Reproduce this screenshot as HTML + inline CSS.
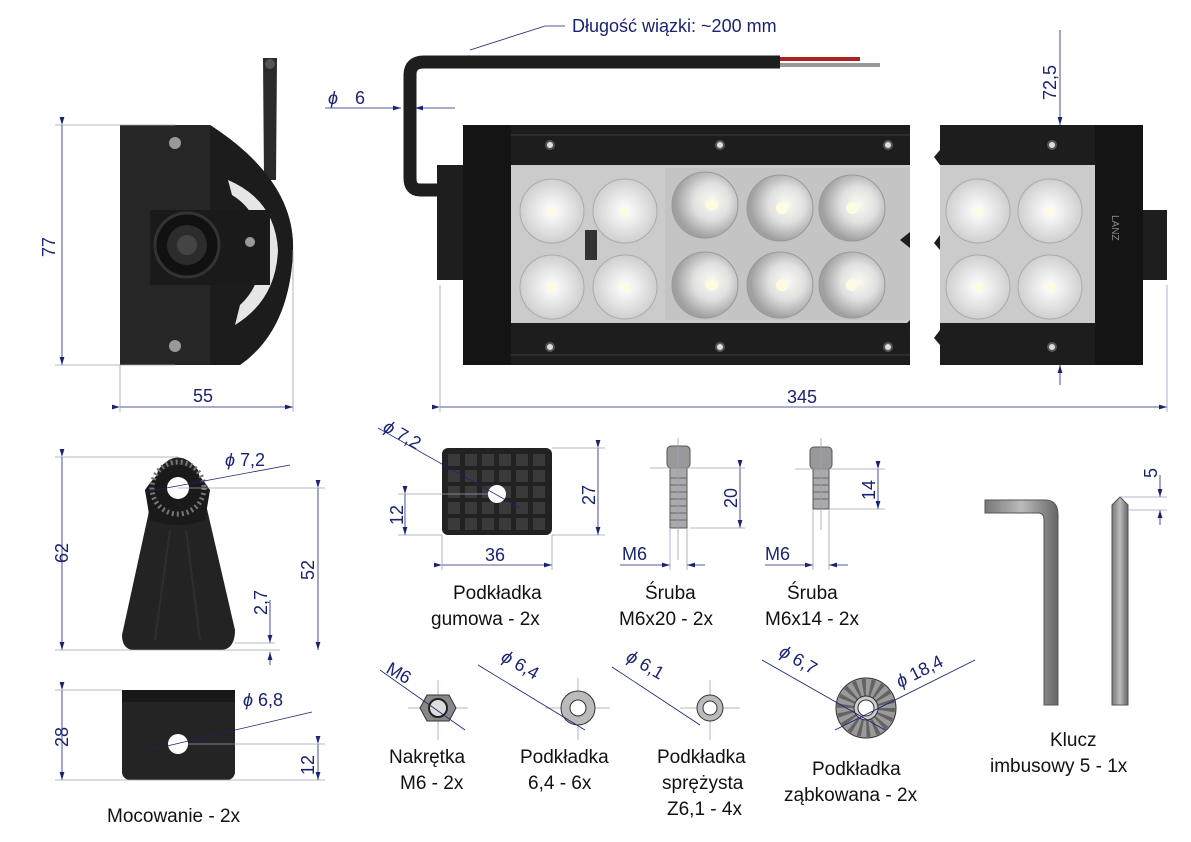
<!DOCTYPE html>
<html><head><meta charset="utf-8"><style>
html,body{margin:0;padding:0;background:#fff;width:1191px;height:842px;overflow:hidden}
svg{display:block}
.t{font-family:"Liberation Sans",sans-serif;font-size:19px;fill:#111}
.d{font-family:"Liberation Sans",sans-serif;font-size:18px;fill:#1a2370}
.l{stroke:#1a2370;stroke-width:0.8;fill:none}
.g{stroke:#9aa0b8;stroke-width:0.8;fill:none}
</style></head><body>
<svg width="1191" height="842" viewBox="0 0 1191 842" xmlns="http://www.w3.org/2000/svg">
<defs>
<radialGradient id="led" cx="50%" cy="50%" r="50%"><stop offset="0" stop-color="#fff"/><stop offset="0.3" stop-color="#f2f2f2"/><stop offset="1" stop-color="#cfcfcf"/></radialGradient>
<radialGradient id="ref" cx="60%" cy="45%" r="55%"><stop offset="0" stop-color="#fbfbf4"/><stop offset="0.5" stop-color="#e0e0e0"/><stop offset="1" stop-color="#a0a0a0"/></radialGradient>
<linearGradient id="key" x1="0" x2="1"><stop offset="0" stop-color="#777"/><stop offset="0.5" stop-color="#bbb"/><stop offset="1" stop-color="#666"/></linearGradient>
<marker id="a" markerWidth="10" markerHeight="6" refX="10" refY="3" orient="auto"><path d="M0,0L10,3L0,6z" fill="#1a2370"/></marker>
</defs>

<!-- ===== side view ===== -->
<path d="M263,58 L277,58 L276,180 L264,180 Z" fill="#2a2a2a"/>
<circle cx="270" cy="64" r="5" fill="#555"/>
<path d="M120,125 L210,125 Q295,180 293,250 Q290,330 240,365 L120,365 Z" fill="#262626"/>
<path d="M210,125 Q295,180 293,250 Q290,330 240,365 L210,365 Z" fill="#1c1c1c"/>
<path d="M228,180 Q275,200 278,250 Q276,300 235,325 L240,305 Q262,285 262,250 Q260,212 232,195 Z" fill="#e6e6e6"/>
<rect x="150" y="210" width="120" height="75" fill="#1a1a1a"/>
<circle cx="187" cy="245" r="32" fill="#111" stroke="#333" stroke-width="3"/>
<circle cx="187" cy="245" r="20" fill="#2c2c2c"/>
<circle cx="187" cy="245" r="10" fill="#444"/>
<circle cx="175" cy="143" r="6" fill="#999"/><circle cx="175" cy="346" r="6" fill="#999"/><circle cx="250" cy="242" r="5" fill="#999"/>
<line class="l" x1="62" y1="125" x2="62" y2="365" marker-start="url(#a)" marker-end="url(#a)"/>
<line class="g" x1="55" y1="125" x2="175" y2="125"/><line class="g" x1="55" y1="365" x2="175" y2="365"/>
<text class="d" transform="translate(55,257) rotate(-90)">77</text>
<line class="l" x1="120" y1="407" x2="293" y2="407" marker-start="url(#a)" marker-end="url(#a)"/>
<line class="g" x1="120" y1="365" x2="120" y2="412"/><line class="g" x1="293" y1="250" x2="293" y2="412"/>
<text class="d" x="193" y="402">55</text>

<!-- ===== main bar ===== -->
<path d="M440,190 L420,190 Q410,190 410,178 L410,75 Q410,62 424,62 L780,62" fill="none" stroke="#1e1e1e" stroke-width="13"/>
<line x1="780" y1="59" x2="860" y2="59" stroke="#b02020" stroke-width="4"/>
<line x1="780" y1="65" x2="880" y2="65" stroke="#999" stroke-width="4"/>
<rect x="437" y="165" width="28" height="115" fill="#1e1e1e"/>
<rect x="1140" y="210" width="27" height="70" fill="#1e1e1e"/>
<rect x="463" y="125" width="447" height="240" fill="#1d1d1d"/>
<rect x="940" y="125" width="203" height="240" fill="#1d1d1d"/>
<rect x="511" y="165" width="399" height="158" fill="#cbcbcb"/>
<rect x="940" y="165" width="157" height="158" fill="#cbcbcb"/>
<rect x="665" y="168" width="245" height="152" fill="#c4c4c4"/>
<rect x="910" y="120" width="30" height="250" fill="#fff"/>
<path d="M910,140 L900,152 L910,160 Z M940,150 L934,157 L940,165 Z M910,232 L900,240 L910,248 Z M940,235 L934,243 L940,250 Z M910,320 L900,330 L910,340 Z M940,330 L934,338 L940,345 Z" fill="#1d1d1d"/>
<rect x="463" y="125" width="48" height="240" fill="#141414"/>
<rect x="1095" y="125" width="48" height="240" fill="#141414"/>
<line x1="511" y1="135" x2="910" y2="135" stroke="#2e2e2e" stroke-width="2"/>
<line x1="511" y1="355" x2="910" y2="355" stroke="#2e2e2e" stroke-width="2"/>
<g fill="#ddd" stroke="#555" stroke-width="2">
<circle cx="550" cy="145" r="4"/><circle cx="720" cy="145" r="4"/><circle cx="888" cy="145" r="4"/><circle cx="1052" cy="145" r="4"/>
<circle cx="550" cy="347" r="4"/><circle cx="720" cy="347" r="4"/><circle cx="888" cy="347" r="4"/><circle cx="1052" cy="347" r="4"/>
</g>
<rect x="585" y="230" width="12" height="30" fill="#333"/>
<g fill="url(#led)" stroke="#aaa">
<circle cx="552" cy="211" r="32"/><circle cx="625" cy="211" r="32"/><circle cx="552" cy="287" r="32"/><circle cx="625" cy="287" r="32"/>
<circle cx="978" cy="211" r="32"/><circle cx="1050" cy="211" r="32"/><circle cx="978" cy="287" r="32"/><circle cx="1050" cy="287" r="32"/>
</g>
<g fill="url(#ref)" stroke="#999">
<circle cx="705" cy="205" r="33"/><circle cx="780" cy="208" r="33"/><circle cx="852" cy="208" r="33"/>
<circle cx="705" cy="285" r="33"/><circle cx="780" cy="285" r="33"/><circle cx="852" cy="285" r="33"/>
</g>
<g fill="#fffbe0"><circle cx="552" cy="211" r="5"/><circle cx="625" cy="211" r="5"/><circle cx="552" cy="287" r="5"/><circle cx="625" cy="287" r="5"/><circle cx="978" cy="211" r="5"/><circle cx="1050" cy="211" r="5"/><circle cx="978" cy="287" r="5"/><circle cx="1050" cy="287" r="5"/><circle cx="712" cy="205" r="6"/><circle cx="782" cy="208" r="6"/><circle cx="852" cy="208" r="6"/><circle cx="712" cy="285" r="6"/><circle cx="782" cy="285" r="6"/><circle cx="852" cy="285" r="6"/></g>
<text x="1112" y="215" transform="rotate(90 1112 215)" font-family="Liberation Sans" font-size="10" fill="#888">LANZ</text>
<!-- labels -->
<text class="d" x="572" y="32">Długość wiązki: ~200 mm</text>
<polyline class="l" points="565,26 545,26 470,50"/>
<text class="d" x="328" y="104" font-style="italic">ϕ</text><text class="d" x="355" y="104">6</text>
<line class="l" x1="325" y1="108" x2="401" y2="108" marker-end="url(#a)"/>
<line class="l" x1="455" y1="108" x2="415" y2="108" marker-end="url(#a)"/>
<text class="d" transform="translate(1056,100) rotate(-90)">72,5</text>
<line class="l" x1="1060" y1="30" x2="1060" y2="125" marker-end="url(#a)"/>
<line class="l" x1="1060" y1="385" x2="1060" y2="365" marker-end="url(#a)"/>
<line class="l" x1="440" y1="407" x2="1167" y2="407" marker-start="url(#a)" marker-end="url(#a)"/>
<line class="g" x1="440" y1="285" x2="440" y2="412"/><line class="g" x1="1167" y1="285" x2="1167" y2="412"/>
<text class="d" x="787" y="403">345</text>

<!-- ===== mount front ===== -->
<path d="M158,470 Q178,445 198,470 L235,630 Q235,650 220,650 L135,650 Q122,650 122,635 Z" fill="#232323"/>
<path d="M145,490 Q178,440 210,490 L205,520 Q178,530 150,520 Z" fill="#1a1a1a"/>
<circle cx="178" cy="488" r="26" fill="none" stroke="#777" stroke-width="5" stroke-dasharray="2 3"/>
<circle cx="178" cy="488" r="11" fill="#fff"/>
<path d="M170,530 L155,640 M186,530 L200,640" stroke="#2e2e2e" stroke-width="2"/>
<line class="l" x1="145" y1="492" x2="290" y2="465"/>
<text class="d" x="225" y="466"><tspan font-style="italic">ϕ</tspan> 7,2</text>
<line class="l" x1="62" y1="457" x2="62" y2="650" marker-start="url(#a)" marker-end="url(#a)"/>
<line class="g" x1="55" y1="457" x2="178" y2="457"/><line class="g" x1="55" y1="650" x2="280" y2="650"/>
<text class="d" transform="translate(68,563) rotate(-90)">62</text>
<line class="l" x1="318" y1="488" x2="318" y2="650" marker-start="url(#a)" marker-end="url(#a)"/>
<line class="g" x1="178" y1="488" x2="325" y2="488"/>
<text class="d" transform="translate(314,580) rotate(-90)">52</text>
<line class="l" x1="270" y1="600" x2="270" y2="643" marker-end="url(#a)"/>
<line class="l" x1="270" y1="665" x2="270" y2="652" marker-end="url(#a)"/>
<line class="g" x1="235" y1="643" x2="275" y2="643"/>
<text class="d" transform="translate(267,615) rotate(-90)">2,7</text>

<!-- mount bottom -->
<rect x="122" y="690" width="113" height="90" rx="8" fill="#242424"/>
<rect x="122" y="690" width="113" height="12" fill="#181818"/>
<circle cx="178" cy="744" r="10" fill="#fff"/>
<line class="l" x1="150" y1="750" x2="312" y2="712"/>
<text class="d" x="243" y="706"><tspan font-style="italic">ϕ</tspan> 6,8</text>
<line class="l" x1="62" y1="690" x2="62" y2="780" marker-start="url(#a)" marker-end="url(#a)"/>
<line class="g" x1="55" y1="690" x2="122" y2="690"/><line class="g" x1="55" y1="780" x2="325" y2="780"/>
<text class="d" transform="translate(68,747) rotate(-90)">28</text>
<line class="l" x1="318" y1="744" x2="318" y2="780" marker-start="url(#a)" marker-end="url(#a)"/>
<line class="g" x1="188" y1="744" x2="325" y2="744"/>
<text class="d" transform="translate(314,775) rotate(-90)">12</text>
<text class="t" x="107" y="822">Mocowanie - 2x</text>

<!-- ===== rubber pad ===== -->
<rect x="442" y="448" width="110" height="87" rx="6" fill="#222"/>
<g fill="#3a3a3a">
<g id="row"><rect x="448" y="454" width="12" height="12"/><rect x="465" y="454" width="12" height="12"/><rect x="482" y="454" width="12" height="12"/><rect x="499" y="454" width="12" height="12"/><rect x="516" y="454" width="12" height="12"/><rect x="533" y="454" width="12" height="12"/></g>
<use href="#row" y="16"/><use href="#row" y="32"/><use href="#row" y="48"/><use href="#row" y="64"/>
</g>
<circle cx="497" cy="494" r="9" fill="#fff"/>
<line class="l" x1="378" y1="428" x2="520" y2="508"/>
<text class="d" transform="translate(382,430) rotate(30)"><tspan font-style="italic">ϕ</tspan> 7,2</text>
<line class="l" x1="598" y1="448" x2="598" y2="535" marker-start="url(#a)" marker-end="url(#a)"/>
<line class="g" x1="552" y1="448" x2="605" y2="448"/><line class="g" x1="552" y1="535" x2="605" y2="535"/>
<text class="d" transform="translate(595,505) rotate(-90)">27</text>
<line class="l" x1="405" y1="494" x2="405" y2="535" marker-start="url(#a)" marker-end="url(#a)"/>
<line class="g" x1="398" y1="494" x2="488" y2="494"/><line class="g" x1="398" y1="535" x2="442" y2="535"/>
<text class="d" transform="translate(403,525) rotate(-90)">12</text>
<line class="l" x1="442" y1="565" x2="552" y2="565" marker-start="url(#a)" marker-end="url(#a)"/>
<line class="g" x1="442" y1="535" x2="442" y2="570"/><line class="g" x1="552" y1="535" x2="552" y2="570"/>
<text class="d" x="485" y="561">36</text>
<text class="t" x="453" y="599">Podkładka</text><text class="t" x="431" y="625">gumowa - 2x</text>

<!-- screws -->
<rect x="667" y="446" width="23" height="22" rx="4" fill="#999" stroke="#555"/>
<rect x="670" y="468" width="17" height="60" fill="#aaa" stroke="#555"/>
<path d="M670,478 h17 M670,485 h17 M670,492 h17 M670,499 h17 M670,506 h17 M670,513 h17 M670,520 h17" stroke="#666"/>
<line class="l" x1="740" y1="468" x2="740" y2="528" marker-start="url(#a)" marker-end="url(#a)"/>
<line class="g" x1="678" y1="438" x2="678" y2="560"/><line class="g" x1="650" y1="468" x2="745" y2="468"/><line class="g" x1="690" y1="528" x2="745" y2="528"/>
<text class="d" transform="translate(737,508) rotate(-90)">20</text>
<line class="l" x1="620" y1="565" x2="670" y2="565" marker-end="url(#a)"/><line class="l" x1="705" y1="565" x2="687" y2="565" marker-end="url(#a)"/>
<line class="g" x1="670" y1="528" x2="670" y2="570"/><line class="g" x1="687" y1="528" x2="687" y2="570"/>
<text class="d" x="622" y="560">M6</text>
<text class="t" x="645" y="599">Śruba</text><text class="t" x="619" y="625">M6x20 - 2x</text>

<rect x="810" y="447" width="22" height="22" rx="4" fill="#999" stroke="#555"/>
<rect x="813" y="469" width="16" height="40" fill="#aaa" stroke="#555"/>
<path d="M813,478 h16 M813,485 h16 M813,492 h16 M813,499 h16" stroke="#666"/>
<line class="l" x1="878" y1="469" x2="878" y2="509" marker-start="url(#a)" marker-end="url(#a)"/>
<line class="g" x1="821" y1="438" x2="821" y2="530"/><line class="g" x1="795" y1="469" x2="885" y2="469"/><line class="g" x1="829" y1="509" x2="885" y2="509"/>
<text class="d" transform="translate(875,500) rotate(-90)">14</text>
<line class="l" x1="765" y1="565" x2="813" y2="565" marker-end="url(#a)"/><line class="l" x1="848" y1="565" x2="829" y2="565" marker-end="url(#a)"/>
<line class="g" x1="813" y1="509" x2="813" y2="570"/><line class="g" x1="829" y1="509" x2="829" y2="570"/>
<text class="d" x="765" y="560">M6</text>
<text class="t" x="787" y="599">Śruba</text><text class="t" x="765" y="625">M6x14 - 2x</text>

<!-- allen keys -->
<path d="M985,500 L1045,500 Q1058,500 1058,515 L1058,705 L1044,705 L1044,520 Q1044,513 1038,513 L985,513 Z" fill="url(#key)" stroke="#555"/>
<path d="M1112,505 L1120,497 L1128,505 L1128,705 L1112,705 Z" fill="url(#key)" stroke="#555"/>
<line class="l" x1="1160" y1="475" x2="1160" y2="497" marker-end="url(#a)"/><line class="l" x1="1160" y1="525" x2="1160" y2="510" marker-end="url(#a)"/>
<line class="g" x1="1120" y1="497" x2="1167" y2="497"/><line class="g" x1="1128" y1="510" x2="1167" y2="510"/>
<text class="d" transform="translate(1157,478) rotate(-90)">5</text>
<text class="t" x="1050" y="746">Klucz</text><text class="t" x="990" y="772">imbusowy 5 - 1x</text>

<!-- nut & washers -->
<line class="g" x1="408" y1="708" x2="468" y2="708"/><line class="g" x1="438" y1="680" x2="438" y2="740"/>
<path d="M427,695 L449,695 L456,708 L449,721 L427,721 L420,708 Z" fill="#888" stroke="#333"/>
<circle cx="438" cy="708" r="9" fill="#ddd" stroke="#222" stroke-width="2"/>
<line class="l" x1="380" y1="670" x2="465" y2="730"/>
<text class="d" transform="translate(385,672) rotate(30)">M6</text>
<text class="t" x="389" y="763">Nakrętka</text><text class="t" x="400" y="789">M6 - 2x</text>

<line class="g" x1="545" y1="708" x2="610" y2="708"/><line class="g" x1="578" y1="678" x2="578" y2="740"/>
<circle cx="578" cy="708" r="17" fill="#bbb" stroke="#333"/><circle cx="578" cy="708" r="8" fill="#fff" stroke="#333"/>
<line class="l" x1="478" y1="665" x2="585" y2="730"/>
<text class="d" transform="translate(500,660) rotate(30)"><tspan font-style="italic">ϕ</tspan> 6,4</text>
<text class="t" x="520" y="763">Podkładka</text><text class="t" x="528" y="789">6,4 - 6x</text>

<line class="g" x1="680" y1="708" x2="740" y2="708"/><line class="g" x1="710" y1="680" x2="710" y2="740"/>
<circle cx="710" cy="708" r="13" fill="#bbb" stroke="#333"/><circle cx="710" cy="708" r="7" fill="#fff" stroke="#333"/>
<line class="l" x1="612" y1="667" x2="700" y2="725"/>
<text class="d" transform="translate(625,660) rotate(30)"><tspan font-style="italic">ϕ</tspan> 6,1</text>
<text class="t" x="657" y="763">Podkładka</text><text class="t" x="662" y="789">sprężysta</text><text class="t" x="667" y="815">Z6,1 - 4x</text>

<circle cx="866" cy="708" r="30" fill="#9a9a9a" stroke="#333"/>
<circle cx="866" cy="708" r="20" fill="none" stroke="#555" stroke-width="18" stroke-dasharray="3 4" opacity="0.8"/>
<circle cx="866" cy="708" r="12" fill="#ccc" stroke="#333"/>
<circle cx="866" cy="708" r="8" fill="#fff" stroke="#333"/>
<line class="l" x1="762" y1="660" x2="885" y2="730"/>
<line class="l" x1="835" y1="730" x2="975" y2="660"/>
<text class="d" transform="translate(778,655) rotate(30)"><tspan font-style="italic">ϕ</tspan> 6,7</text>
<text class="d" transform="translate(900,688) rotate(-27)"><tspan font-style="italic">ϕ</tspan> 18,4</text>
<text class="t" x="812" y="775">Podkładka</text><text class="t" x="784" y="801">ząbkowana - 2x</text>
</svg>
</body></html>
